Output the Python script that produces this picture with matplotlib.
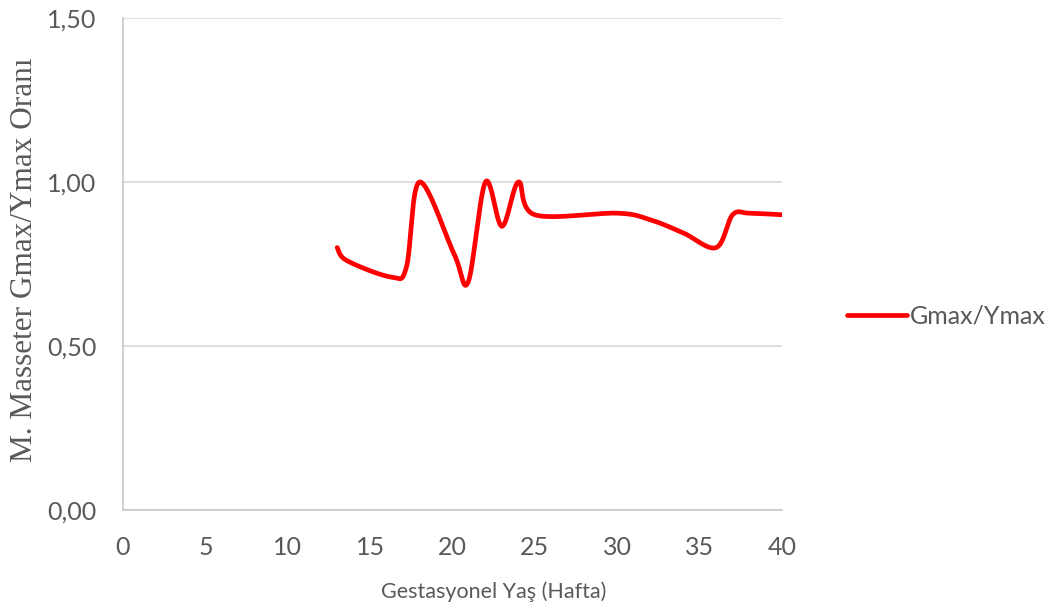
import numpy as np
import matplotlib
matplotlib.use('Agg')
import matplotlib.pyplot as plt
from matplotlib.ticker import FuncFormatter

# gestational week vs. Gmax/Ymax ratio
weeks = [13, 13.6, 16.3, 17.2, 18, 20.1, 20.95, 22, 23, 24, 25,
         30, 32, 34, 36, 37, 38, 40]
ratio = [0.80, 0.76, 0.71, 0.74, 1.00, 0.78, 0.695, 1.00, 0.865, 1.00, 0.90,
         0.905, 0.885, 0.845, 0.80, 0.90, 0.905, 0.90]

x_ticks = [0, 5, 10, 15, 20, 25, 30, 35, 40]
y_ticks = [0.0, 0.5, 1.0, 1.5]

GRAY = '#595959'
SANS = 'Lato'


def smooth_line(xs, ys, n=40):
    # spreadsheet-style smoothing: cubic bezier per segment, catmull-rom controls
    pts = np.column_stack([xs, ys]).astype(float)
    scale = np.array([1.0, 40 / 1.5 * 328 / 659])
    p = pts * scale
    out = []
    for i in range(len(p) - 1):
        p0 = p[i - 1] if i > 0 else p[i]
        p1, p2 = p[i], p[i + 1]
        p3 = p[i + 2] if i + 2 < len(p) else p[i + 1]
        c1 = p1 + (p2 - p0) / 6
        c2 = p2 - (p3 - p1) / 6
        t = np.linspace(0, 1, n)[:, None]
        seg = ((1 - t) ** 3 * p1 + 3 * (1 - t) ** 2 * t * c1
               + 3 * (1 - t) * t ** 2 * c2 + t ** 3 * p2)
        out.append(seg if i == 0 else seg[1:])
    out = np.vstack(out) / scale
    return out[:, 0], out[:, 1]


fig = plt.figure(figsize=(10.55, 6.12), dpi=100)
ax = fig.add_axes([123 / 1055, 1 - 510 / 612, (782 - 123) / 1055, (510 - 18) / 612])

sx, sy = smooth_line(weeks, ratio)
line, = ax.plot(sx, sy, color='#ff0000', linewidth=3.4, solid_capstyle='round',
                label='Gmax/Ymax')

ax.set_xlim(0, 40)
ax.set_ylim(0, 1.5)
ax.set_xticks(x_ticks)
ax.set_yticks(y_ticks)
ax.yaxis.set_major_formatter(FuncFormatter(lambda v, _: f'{v:.2f}'.replace('.', ',')))
ax.grid(axis='y', color='#d9d9d9', linewidth=1.2)
ax.set_axisbelow(True)
for side in ['top', 'right']:
    ax.spines[side].set_visible(False)
for side in ['left', 'bottom']:
    ax.spines[side].set_color('#c8c8c8')
    ax.spines[side].set_linewidth(1.2)
ax.tick_params(length=0, labelsize=18, labelcolor=GRAY)
ax.tick_params(axis='x', pad=19)
ax.tick_params(axis='y', pad=19)
for lbl in ax.get_xticklabels() + ax.get_yticklabels():
    lbl.set_fontfamily(SANS)

# axis titles placed by figure pixel position
px = ax.transAxes.inverted()
ax.set_xlabel('Gestasyonel Yaş (Hafta)', fontsize=15.5, color=GRAY, fontfamily=SANS,
              va='center')
ax.xaxis.set_label_coords(*px.transform(fig.transFigure.transform((494 / 1055, 1 - 592 / 612))))
ax.set_ylabel('M. Masseter Gmax/Ymax Oranı', fontsize=22.5, color=GRAY,
              fontfamily='Liberation Serif', va='center')
ax.yaxis.set_label_coords(*px.transform(fig.transFigure.transform((25 / 1055, 1 - 260 / 612))))

leg = fig.legend(handles=[line], loc='center left', bbox_to_anchor=(824 / 1055, 1 - 316 / 612),
                 frameon=False, handlelength=2.4, handletextpad=0.15,
                 prop={'family': SANS, 'size': 18})
for t in leg.get_texts():
    t.set_color(GRAY)

fig.savefig('out.png', dpi=100, facecolor='white')
